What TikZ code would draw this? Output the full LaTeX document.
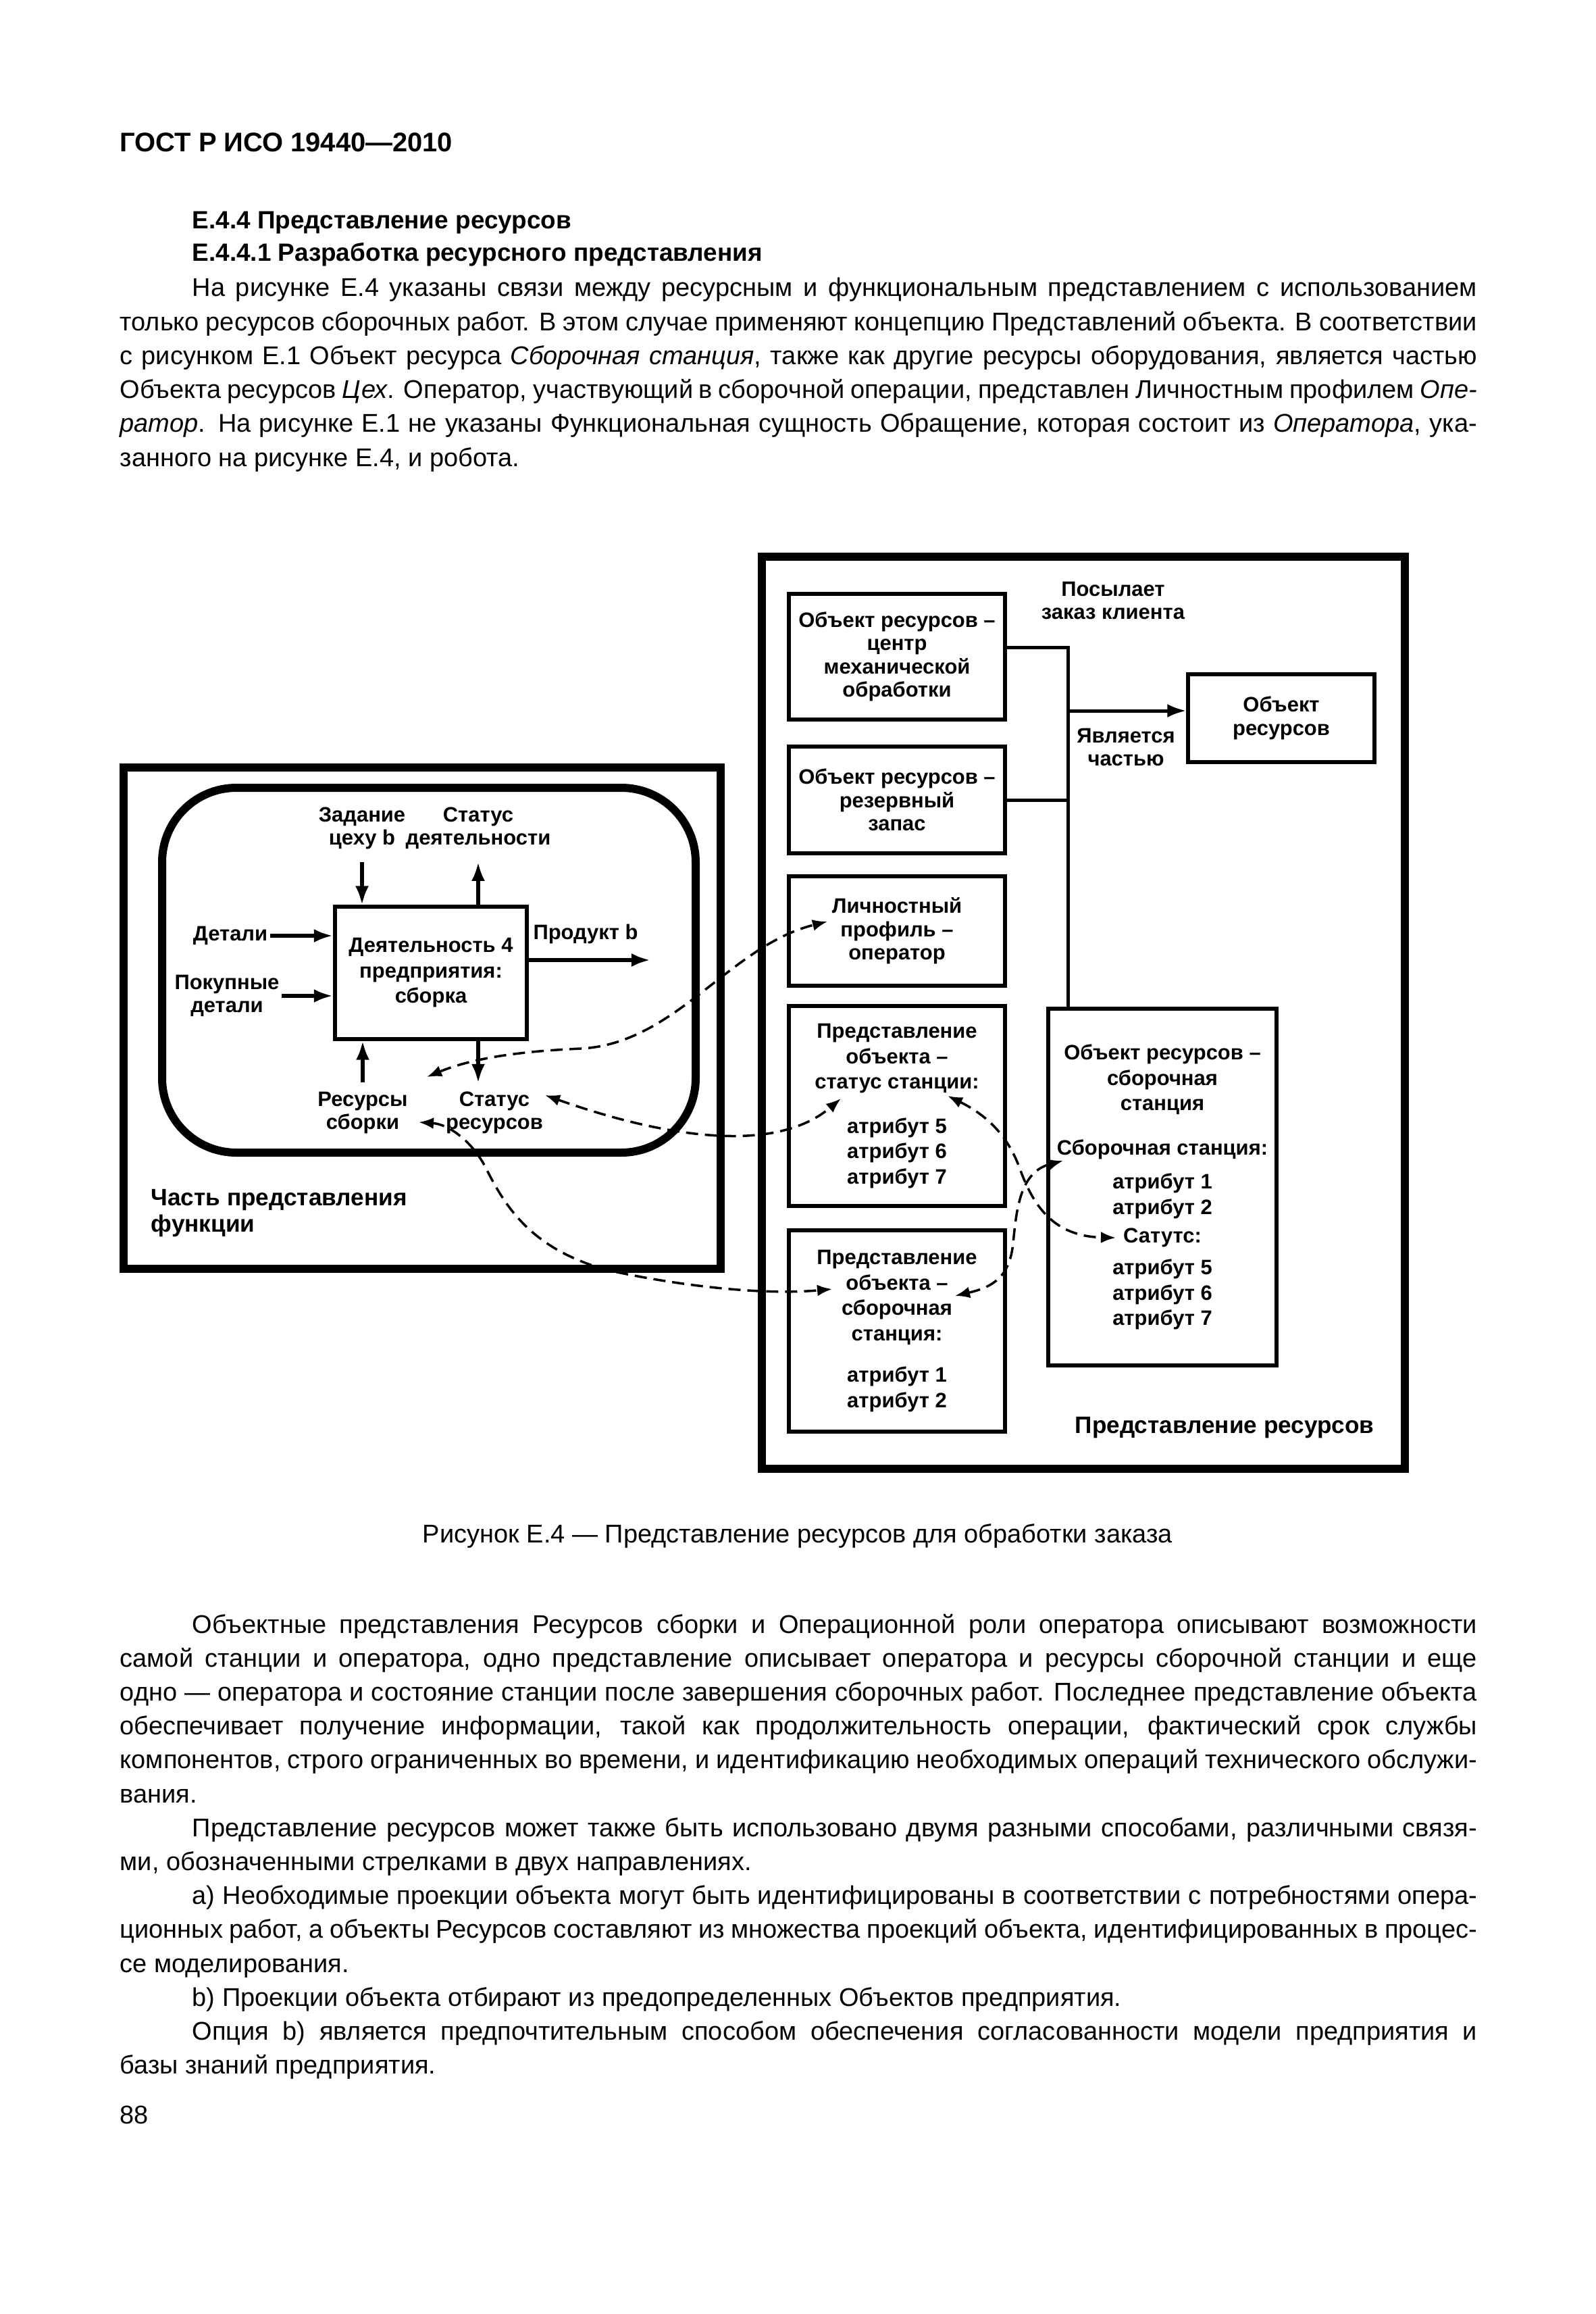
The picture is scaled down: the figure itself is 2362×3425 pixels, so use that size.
\documentclass[tikz,border=0pt]{standalone}
\usepackage{fontspec}
\setmainfont{Liberation Sans}
\usetikzlibrary{arrows.meta}
\newcommand\bodyfont{\fontsize{10.8}{14.28}\selectfont}
\newcommand\headfont{\bfseries\fontsize{10.5}{14.28}\selectfont}
\newcommand\diafont{\bfseries\fontsize{8.8}{10.67}\selectfont}
\newcommand\tightfont{\bfseries\fontsize{8.8}{9.8}\selectfont}
\newcommand\bigfont{\bfseries\fontsize{10}{11.1}\selectfont}
\newcommand\ind{\hspace*{1.07cm}}
\tolerance=9999
\begin{document}
\begin{tikzpicture}[x=0.01cm, y=-0.01cm,
    frame/.style={line width=0.12cm},
    box/.style={draw, line width=0.06cm, inner sep=0.04cm, align=center, font=\diafont},
    tbox/.style={box, font=\tightfont},
    lbl/.style={align=center, font=\tightfont, inner sep=0.03cm},
    big/.style={align=left, font=\bigfont, inner sep=0pt},
    flow/.style={line width=0.055cm, -{Latex[length=0.28cm,width=0.2cm]}},
    link/.style={line width=0.05cm},
    xref/.style={line width=0.035cm, dash pattern=on 0.18cm off 0.1cm,
        {Latex[length=0.22cm,width=0.17cm]}-{Latex[length=0.22cm,width=0.17cm]}},
    para/.style={anchor=base west, inner sep=0pt, text width=20.08cm, align=justify, font=\bodyfont}]
    \useasboundingbox (0,0) rectangle (2362,3425);
    % текст над рисунком
    \node[anchor=base west, inner sep=0pt, font=\bfseries\fontsize{11.35}{14}\selectfont] (hdr) at (177,225) {ГОСТ Р ИСО 19440—2010};
    \node[anchor=base west, inner sep=0pt, font=\headfont] (sec) at (284,339) {Е.4.4 Представление ресурсов};
    \node[anchor=base west, inner sep=0pt, font=\headfont] (subsec) at (284,387) {Е.4.4.1 Разработка ресурсного представления};
    \node[para] (p1) at (177,439) {\ind На рисунке Е.4 указаны связи между ресурсным и функциональным представлением с использованием\linebreak
        только ресурсов сборочных работ. В этом случае применяют концепцию Представлений объекта. В соответствии\linebreak
        с рисунком Е.1 Объект ресурса \textit{Сборочная станция}, также как другие ресурсы оборудования, является частью\linebreak
        Объекта ресурсов \textit{Цех}. Оператор, участвующий в сборочной операции, представлен Личностным профилем \textit{Опе-}\linebreak
        \textit{ратор}. На рисунке Е.1 не указаны Функциональная сущность Обращение, которая состоит из \textit{Оператора}, ука-\linebreak
        занного на рисунке Е.4, и робота.};
    % часть представления функции
    \draw[frame] (183,1136) rectangle (1067,1878);
    \draw[frame, rounded corners=1.1cm] (240,1166) rectangle (1030,1706);
    \node[box, minimum width=2.84cm, minimum height=1.95cm] (act) at (638,1440) {Деятельность 4\\предприятия:\\сборка};
    \node[lbl] (zad) at (536,1226) {Задание\\цеху b};
    \node[lbl] (sdt) at (708,1226) {Статус\\деятельности};
    \node[lbl] (det) at (341,1385) {Детали};
    \node[lbl] (pok) at (336,1474) {Покупные\\детали};
    \node[lbl] (prod) at (867,1382) {Продукт b};
    \node[lbl] (res) at (537,1647) {Ресурсы\\сборки};
    \node[lbl] (srs) at (732,1647) {Статус\\ресурсов};
    \node[big, anchor=west] (fpart) at (223,1796) {Часть представления\\функции};
    \coordinate (prodout) at (963,1421);
    \coordinate (srin) at (708,1603);
    \draw[flow] (det.east) -- (det.east -| act.west);
    \draw[flow] (pok.east) -- (pok.east -| act.west);
    \draw[flow, shorten <=0.15cm] (zad.south) -- (zad.south |- act.north);
    \draw[flow, shorten >=0.15cm] (sdt.south |- act.north) -- (sdt.south);
    \draw[flow, shorten <=0.1cm] (res.north) -- (res.north |- act.south);
    \draw[flow] (act.south -| srin) -- (srin);
    \draw[flow] (act.east |- prodout) -- (prodout);
    % представление ресурсов
    \draw[frame] (1128,824) rectangle (2080,2174);
    \node[tbox, minimum width=3.19cm, minimum height=1.85cm] (bA) at (1328,972) {Объект ресурсов –\\центр\\механической\\обработки};
    \node[tbox, minimum width=3.19cm, minimum height=1.58cm] (bB) at (1328,1184) {Объект ресурсов –\\резервный\\запас};
    \node[tbox, minimum width=3.19cm, minimum height=1.61cm] (bC) at (1328,1378) {Личностный\\профиль –\\оператор};
    \node[box, minimum width=3.19cm, minimum height=2.95cm] (bD) at (1328,1637) {Представление\\объекта –\\статус станции:\\[0.28cm]атрибут 5\\атрибут 6\\атрибут 7};
    \node[box, minimum width=3.19cm, minimum height=2.98cm] (bE) at (1328,1970) {Представление\\объекта –\\сборочная\\станция:\\[0.24cm]атрибут 1\\атрибут 2};
    \node[tbox, minimum width=2.75cm, minimum height=1.30cm] (bF) at (1897,1063) {Объект\\ресурсов};
    \node[box, minimum width=3.38cm, minimum height=5.27cm] (bG) at (1721,1757) {Объект ресурсов –\\сборочная\\станция\\[0.28cm]Сборочная станция:\\[0.13cm]атрибут 1\\атрибут 2\\[0.05cm]Сатутс:\\[0.09cm]атрибут 5\\атрибут 6\\атрибут 7};
    \node[lbl] (send) at (1648,889) {Посылает\\заказ клиента};
    \node[lbl] (ispart) at (1667,1106) {Является\\частью};
    \node[big, anchor=west] (rpart) at (1591,2113) {Представление ресурсов};
    \coordinate (trunk) at (1581,958);
    \coordinate (junct) at (1581,1052);
    \draw[link] (bA.east |- trunk) -- (trunk) -- (trunk |- bG.north);
    \draw[link] (bB.east) -- (bB.east -| trunk);
    \draw[link, -{Latex[length=0.28cm,width=0.2cm]}] (junct) -- (junct -| bF.west);
    % связи между представлениями
    \coordinate (c1a) at (632,1594);
    \coordinate (c1b) at (1225,1364);
    \coordinate (c2a) at (807,1621);
    \coordinate (c2b) at (1245,1626);
    \coordinate (c3a) at (620,1661);
    \coordinate (c3b) at (1232,1908);
    \coordinate (c4a) at (1403,1622);
    \coordinate (c4b) at (1652,1832);
    \coordinate (c5a) at (1414,1918);
    \coordinate (c5b) at (1574,1718);
    \draw[xref] (c1a) .. controls (700,1566) and (770,1556) .. (860,1552)
        .. controls (1000,1545) and (1080,1400) .. (c1b);
    \draw[xref] (c2a) .. controls (960,1675) and (1140,1715) .. (c2b);
    \draw[xref] (c3a) .. controls (665,1664) and (700,1690) .. (720,1730)
        .. controls (750,1790) and (790,1850) .. (900,1880)
        .. controls (990,1900) and (1120,1918) .. (c3b);
    \draw[xref] (c4a) .. controls (1460,1650) and (1492,1680) .. (1510,1730)
        .. controls (1530,1785) and (1560,1830) .. (c4b);
    \draw[xref] (c5a) .. controls (1470,1905) and (1495,1890) .. (1500,1840)
        .. controls (1505,1790) and (1510,1735) .. (c5b);
    % подпись и текст под рисунком
    \node[anchor=base, inner sep=0pt, font=\bodyfont] (cap) at (1181,2283) {Рисунок Е.4 — Представление ресурсов для обработки заказа};
    \node[para] (p2) at (177,2417) {\ind Объектные представления Ресурсов сборки и Операционной роли оператора описывают возможности\linebreak
        самой станции и оператора, одно представление описывает оператора и ресурсы сборочной станции и еще\linebreak
        одно — оператора и состояние станции после завершения сборочных работ. Последнее представление объекта\linebreak
        обеспечивает получение информации, такой как продолжительность операции, фактический срок службы\linebreak
        компонентов, строго ограниченных во времени, и идентификацию необходимых операций технического обслужи-\linebreak
        вания.\par
        \ind Представление ресурсов может также быть использовано двумя разными способами, различными связя-\linebreak
        ми, обозначенными стрелками в двух направлениях.\par
        \ind а) Необходимые проекции объекта могут быть идентифицированы в соответствии с потребностями опера-\linebreak
        ционных работ, а объекты Ресурсов составляют из множества проекций объекта, идентифицированных в процес-\linebreak
        се моделирования.\par
        \ind b) Проекции объекта отбирают из предопределенных Объектов предприятия.\par
        \ind Опция b) является предпочтительным способом обеспечения согласованности модели предприятия и\linebreak
        базы знаний предприятия.};
    \node[anchor=base west, inner sep=0pt, font=\bodyfont] (pg) at (177,3143) {88};
\end{tikzpicture}
\end{document}
